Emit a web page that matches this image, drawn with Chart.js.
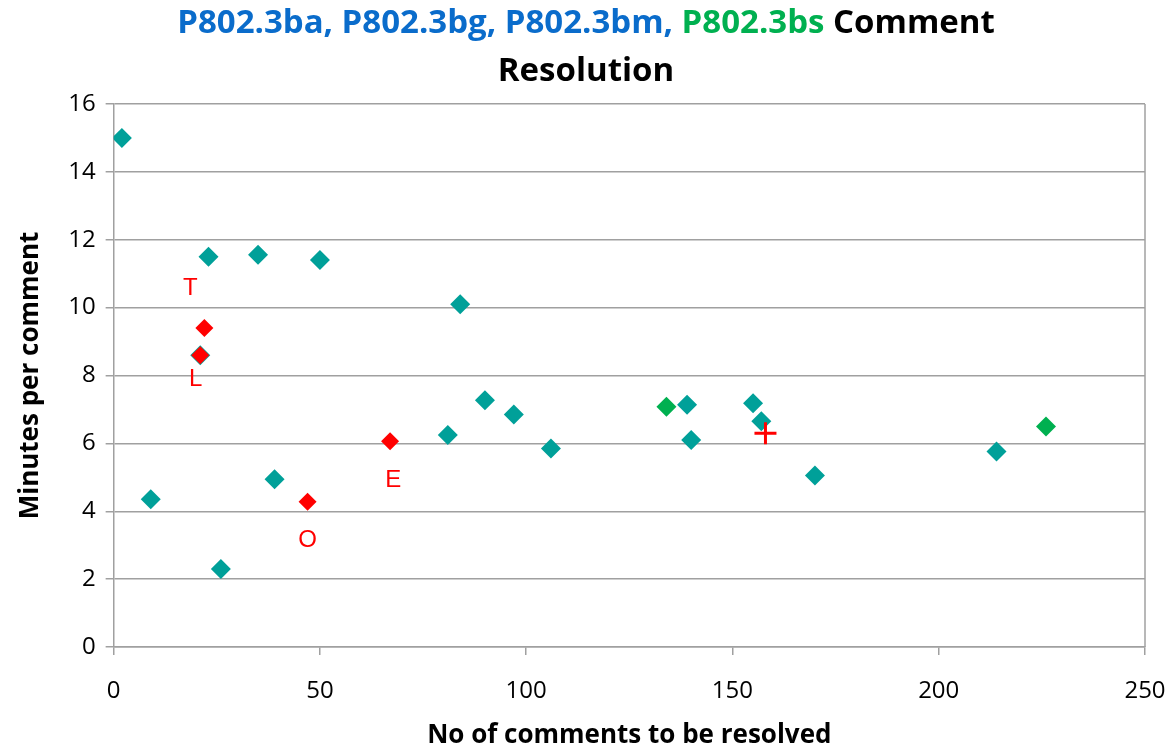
<!DOCTYPE html>
<html>
<head>
<meta charset="utf-8">
<script src="https://cdn.jsdelivr.net/npm/chart.js@4.4.1/dist/chart.umd.min.js"></script>
<style>
  html, body { margin: 0; padding: 0; background: #fff; }
  #wrap { width: 1172px; height: 749px; }
</style>
</head>
<body>
<div id="wrap"><canvas id="myChart" width="1172" height="749"></canvas></div>
<script>
// Comment resolution data (x = comments, y = minutes per comment)

const commentsMain = [2, 23, 35, 50, 84, 21, 9, 39, 26, 81, 90, 97, 106, 139, 140, 155, 157, 170, 214];
const minutesMain = [15, 11.5, 11.56, 11.4, 10.1, 8.6, 4.35, 4.94, 2.3, 6.25, 7.27, 6.85, 5.85, 7.14, 6.1, 7.18, 6.65, 5.05, 5.76];

const commentsBs = [134, 226];
const minutesBs = [7.08, 6.5];

const commentsMarked = [22, 21, 47, 67];
const minutesMarked = [9.4, 8.6, 4.28, 6.06];

const commentsPlus = [158];
const minutesPlus = [6.3];

// letters next to the red points
const markLetters = ["T", "L", "O", "E"];
const markLetterX = [18.6, 19.9, 47, 67.8];
const markLetterY = [10.56, 7.9, 3.15, 4.9];

// title pieces
const titleParts = [
  ["P802.3ba, P802.3bg, P802.3bm, ", "#0a6ccb"],
  ["P802.3bs", "#00b050"],
  [" Comment", "#000000"],
];
const titleLine2 = "Resolution";

const xTicks = [0, 50, 100, 150, 200, 250];
const yTicks = [0, 2, 4, 6, 8, 10, 12, 14, 16];

const toPoints = (xs, ys) => xs.map((x, i) => ({ x: x, y: ys[i] }));

//title + letters + right border
const extras = {
  id: "extras",
  afterDraw(chart) {
    const ctx = chart.ctx;
    const area = chart.chartArea;
    const xs = chart.scales.x;
    const ys = chart.scales.y;

    ctx.save();
    ctx.strokeStyle = "#a0a0a0";
    ctx.lineWidth = 1.5;
    ctx.beginPath();
    ctx.moveTo(area.right, area.top);
    ctx.lineTo(area.right, area.bottom);
    ctx.stroke();

    ctx.fillStyle = "#ff0000";
    ctx.font = "24px 'Liberation Sans', Arial, sans-serif";
    ctx.textAlign = "center";
    ctx.textBaseline = "middle";
    markLetters.forEach((t, i) => {
      ctx.fillText(t, xs.getPixelForValue(markLetterX[i]), ys.getPixelForValue(markLetterY[i]));
    });

    ctx.font = "bold 33px 'Open Sans', sans-serif";
    ctx.textAlign = "left";
    let total = 0;
    titleParts.forEach((p) => (total += ctx.measureText(p[0]).width));
    let x = chart.width / 2 - total / 2;
    titleParts.forEach((p) => {
      ctx.fillStyle = p[1];
      ctx.fillText(p[0], x, 24);
      x += ctx.measureText(p[0]).width;
    });
    ctx.fillStyle = "#000";
    ctx.textAlign = "center";
    ctx.fillText(titleLine2, chart.width / 2, 72);
    ctx.restore();
  },
};

new Chart("myChart", {
  type: "scatter",
  data: {
    datasets: [
      {
        data: toPoints(commentsMain, minutesMain),
        backgroundColor: "#00a099",
        borderColor: "#00a099",
        pointStyle: "rectRot",
        pointRadius: 10,
        borderWidth: 0,
        order: 3,
      },
      {
        data: toPoints(commentsBs, minutesBs),
        backgroundColor: "#00b050",
        borderColor: "#00b050",
        pointStyle: "rectRot",
        pointRadius: 10,
        borderWidth: 0,
        order: 2,
      },
      {
        data: toPoints(commentsMarked, minutesMarked),
        backgroundColor: "#ff0000",
        borderColor: "#ff0000",
        pointStyle: "rectRot",
        pointRadius: 9,
        borderWidth: 0,
        order: 1,
      },
      {
        data: toPoints(commentsPlus, minutesPlus),
        backgroundColor: "#ff0000",
        borderColor: "#ff0000",
        pointStyle: "cross",
        pointRadius: 11,
        borderWidth: 3,
        order: 0,
      },
    ],
  },
  options: {
    responsive: false,
    animation: false,
    layout: { padding: { top: 104, right: 27, left: 10, bottom: 0 } },
    plugins: {
      legend: { display: false },
      tooltip: { enabled: false },
    },
    scales: {
      x: {
        type: "linear",
        min: 0,
        max: 250,
        afterBuildTicks: (axis) => (axis.ticks = xTicks.map((v) => ({ value: v }))),
        afterFit: (axis) => {
          axis.height = 102;
          axis.paddingRight = 27;
        },
        grid: { drawOnChartArea: false, color: "#a0a0a0", lineWidth: 1.5, tickLength: 8 },
        border: { color: "#a0a0a0", width: 1.5 },
        ticks: { color: "#000", font: { family: "'Open Sans'", size: 24 }, padding: 22, maxRotation: 0 },
        title: {
          display: true,
          text: "No of comments to be resolved",
          color: "#000",
          font: { family: "'Open Sans'", size: 26, weight: "bold", lineHeight: 1 },
          padding: { top: 2, bottom: 0 },
        },
      },
      y: {
        min: 0,
        max: 16,
        afterBuildTicks: (axis) => (axis.ticks = yTicks.map((v) => ({ value: v }))),
        grid: { color: "#a0a0a0", lineWidth: 1.5, tickLength: 8 },
        border: { color: "#a0a0a0", width: 1.5 },
        ticks: { color: "#000", font: { family: "'Open Sans'", size: 24 }, padding: 10 },
        title: {
          display: true,
          text: "Minutes per comment",
          color: "#000",
          font: { family: "'Open Sans'", size: 26, weight: "bold" },
          padding: { top: 5, bottom: 12 },
        },
      },
    },
  },
  plugins: [extras],
});
</script>
</body>
</html>
